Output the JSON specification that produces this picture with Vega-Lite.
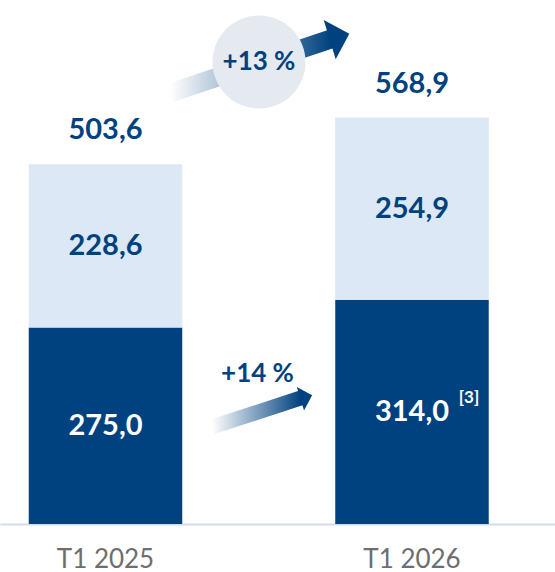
{
  "$schema": "https://vega.github.io/schema/vega-lite/v6.json",
  "width": 555,
  "height": 524,
  "autosize": {"type": "none"},
  "padding": {"left": 0, "top": 0, "right": 0, "bottom": 48},
  "usermeta": {"embedOptions": {"formatLocale": {"decimal": ",", "thousands": " ", "grouping": [3], "currency": ["", " €"]}}},
  "config": {"view": {"stroke": null}},
  "datasets": {
    "figures": [
      {"period": "T1 2025", "segment": "s1", "value": 275.0, "note": ""},
      {"period": "T1 2025", "segment": "s2", "value": 228.6, "note": ""},
      {"period": "T1 2026", "segment": "s1", "value": 314.0, "note": "[3]"},
      {"period": "T1 2026", "segment": "s2", "value": 254.9, "note": ""}
    ],
    "growth": [
      {"item": "shaft13", "period": "T1 2025", "off": 0.4608, "v": 603.3},
      {"item": "shaft13", "period": "T1 2025", "off": 0.9861, "v": 678.9},
      {"item": "head13", "period": "T1 2025", "off": 1.0139, "v": 682.1},
      {"item": "badge13", "period": "T1 2025", "off": 0.7512, "v": 646.7, "label": "+13 %"},
      {"item": "shaft14", "period": "T1 2025", "off": 0.5979, "v": 135.8},
      {"item": "shaft14", "period": "T1 2025", "off": 0.8882, "v": 176.4},
      {"item": "head14", "period": "T1 2025", "off": 0.9055, "v": 177.8},
      {"item": "label14", "period": "T1 2025", "off": 0.7463, "v": 209.3, "label": "+14 %"}
    ]
  },
  "encoding": {
    "x": {
      "field": "period", "type": "nominal",
      "scale": {"domain": ["T1 2025", "T1 2026"], "paddingInner": 0.4992, "paddingOuter": 0.155, "align": 0.3026},
      "axis": {
        "title": null, "ticks": false, "labelPadding": 43,
        "labelBaseline": "alphabetic", "labelFont": "Lato", "labelFontSize": 26,
        "labelColor": "#6e6e6e", "labelAngle": 0, "domainColor": "#d3dbf0",
        "domainWidth": 2, "grid": false
      }
    }
  },
  "layer": [
    {
      "data": {"name": "figures"},
      "mark": {"type": "bar"},
      "encoding": {
        "y": {"field": "value", "type": "quantitative", "stack": "zero",
              "scale": {"domain": [0, 733.5], "nice": false, "zero": true}, "axis": null},
        "color": {"field": "segment", "type": "nominal",
                  "scale": {"domain": ["s1", "s2"], "range": ["#00427f", "#dce8f5"]}, "legend": null},
        "order": {"field": "segment", "type": "ordinal", "sort": "ascending"}
      }
    },
    {
      "data": {"name": "figures"},
      "mark": {"type": "text", "dy": -34, "font": "Lato", "fontWeight": "bold", "fontSize": 29, "color": "#00427f", "baseline": "middle"},
      "encoding": {
        "y": {"aggregate": "sum", "field": "value", "type": "quantitative", "axis": null},
        "text": {"aggregate": "sum", "field": "value", "type": "quantitative", "format": ".1f"}
      }
    },
    {
      "data": {"name": "figures"},
      "transform": [
        {"stack": "value", "groupby": ["period"], "sort": [{"field": "segment", "order": "ascending"}], "as": ["y0", "y1"]},
        {"fold": ["y0", "y1"], "as": ["edge", "edgeValue"]},
        {"filter": "datum.segment === 's1'"}
      ],
      "mark": {"type": "text", "font": "Lato", "fontWeight": "bold", "fontSize": 29, "color": "#ffffff", "baseline": "middle"},
      "encoding": {
        "y": {"aggregate": "mean", "field": "edgeValue", "type": "quantitative", "axis": null},
        "text": {"field": "value", "type": "quantitative", "format": ".1f"}
      }
    },
    {
      "data": {"name": "figures"},
      "transform": [
        {"stack": "value", "groupby": ["period"], "sort": [{"field": "segment", "order": "ascending"}], "as": ["y0", "y1"]},
        {"fold": ["y0", "y1"], "as": ["edge", "edgeValue"]},
        {"filter": "datum.segment === 's2'"}
      ],
      "mark": {"type": "text", "font": "Lato", "fontWeight": "bold", "fontSize": 29, "color": "#00427f", "baseline": "middle"},
      "encoding": {
        "y": {"aggregate": "mean", "field": "edgeValue", "type": "quantitative", "axis": null},
        "text": {"field": "value", "type": "quantitative", "format": ".1f"}
      }
    },
    {
      "data": {"name": "figures"},
      "transform": [
        {"stack": "value", "groupby": ["period"], "sort": [{"field": "segment", "order": "ascending"}], "as": ["y0", "y1"]},
        {"fold": ["y0", "y1"], "as": ["edge", "edgeValue"]},
        {"filter": "datum.note !== ''"}
      ],
      "mark": {"type": "text", "font": "Lato", "fontWeight": "bold", "fontSize": 17, "color": "#ffffff", "baseline": "middle", "dx": 57, "dy": -14},
      "encoding": {
        "y": {"aggregate": "mean", "field": "edgeValue", "type": "quantitative", "axis": null},
        "text": {"field": "note", "type": "nominal"}
      }
    },
    {
      "data": {"name": "growth"},
      "transform": [{"filter": "datum.item === 'shaft13'"}],
      "mark": {"type": "line", "strokeWidth": 19, "strokeCap": "butt",
               "stroke": {"gradient": "linear", "x1": 0, "y1": 0, "x2": 1, "y2": 0,
                          "stops": [{"offset": 0, "color": "#ffffff"}, {"offset": 1, "color": "#00427f"}]}},
      "encoding": {
        "xOffset": {"field": "off", "type": "quantitative", "scale": {"domain": [0, 1], "range": [0, 306.5], "nice": false, "zero": false}},
        "y": {"field": "v", "type": "quantitative", "axis": null},
        "order": {"field": "off", "type": "quantitative"}
      }
    },
    {
      "data": {"name": "growth"},
      "transform": [{"filter": "datum.item === 'badge13'"}],
      "mark": {"type": "point", "shape": "circle", "size": 8659, "filled": true, "color": "#e5eaf1", "opacity": 1},
      "encoding": {
        "xOffset": {"field": "off", "type": "quantitative", "scale": {"domain": [0, 1], "range": [0, 306.5], "nice": false, "zero": false}},
        "y": {"field": "v", "type": "quantitative", "axis": null}
      }
    },
    {
      "data": {"name": "growth"},
      "transform": [{"filter": "datum.item === 'head13'"}],
      "mark": {"type": "point", "shape": "M-0.5,-1L0.5,0L-0.5,1Z", "size": 1681, "angle": 343, "filled": true, "color": "#00427f", "opacity": 1},
      "encoding": {
        "xOffset": {"field": "off", "type": "quantitative", "scale": {"domain": [0, 1], "range": [0, 306.5], "nice": false, "zero": false}},
        "y": {"field": "v", "type": "quantitative", "axis": null}
      }
    },
    {
      "data": {"name": "growth"},
      "transform": [{"filter": "datum.item === 'badge13'"}],
      "mark": {"type": "text", "font": "Lato", "fontSize": 26, "fontWeight": "bold", "color": "#00427f", "baseline": "middle"},
      "encoding": {
        "xOffset": {"field": "off", "type": "quantitative", "scale": {"domain": [0, 1], "range": [0, 306.5], "nice": false, "zero": false}},
        "y": {"field": "v", "type": "quantitative", "axis": null},
        "text": {"field": "label", "type": "nominal"}
      }
    },
    {
      "data": {"name": "growth"},
      "transform": [{"filter": "datum.item === 'shaft14'"}],
      "mark": {"type": "line", "strokeWidth": 15, "strokeCap": "butt",
               "stroke": {"gradient": "linear", "x1": 0, "y1": 0, "x2": 1, "y2": 0,
                          "stops": [{"offset": 0, "color": "#ffffff"}, {"offset": 1, "color": "#00427f"}]}},
      "encoding": {
        "xOffset": {"field": "off", "type": "quantitative", "scale": {"domain": [0, 1], "range": [0, 306.5], "nice": false, "zero": false}},
        "y": {"field": "v", "type": "quantitative", "axis": null},
        "order": {"field": "off", "type": "quantitative"}
      }
    },
    {
      "data": {"name": "growth"},
      "transform": [{"filter": "datum.item === 'head14'"}],
      "mark": {"type": "point", "shape": "M-0.5,-1L0.5,0L-0.5,1Z", "size": 600, "angle": 343, "filled": true, "color": "#00427f", "opacity": 1},
      "encoding": {
        "xOffset": {"field": "off", "type": "quantitative", "scale": {"domain": [0, 1], "range": [0, 306.5], "nice": false, "zero": false}},
        "y": {"field": "v", "type": "quantitative", "axis": null}
      }
    },
    {
      "data": {"name": "growth"},
      "transform": [{"filter": "datum.item === 'label14'"}],
      "mark": {"type": "text", "font": "Lato", "fontSize": 26, "fontWeight": "bold", "color": "#00427f", "baseline": "middle"},
      "encoding": {
        "xOffset": {"field": "off", "type": "quantitative", "scale": {"domain": [0, 1], "range": [0, 306.5], "nice": false, "zero": false}},
        "y": {"field": "v", "type": "quantitative", "axis": null},
        "text": {"field": "label", "type": "nominal"}
      }
    }
  ],
  "resolve": {"scale": {"xOffset": "independent"}}
}
